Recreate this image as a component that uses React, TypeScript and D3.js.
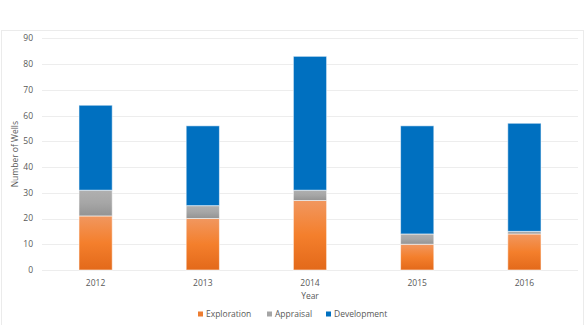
import React from "react";
import * as d3 from "d3";

const years = ["2012", "2013", "2014", "2015", "2016"];
const exploration = [21, 20, 27, 10, 14];
const appraisal = [10, 5, 4, 4, 1];
const development = [33, 31, 52, 42, 42];
const seriesNames = ["Exploration", "Appraisal", "Development"];
const yTicks = [0, 10, 20, 30, 40, 50, 60, 70, 80, 90];

const W = 585;
const H = 325;
const margin = { left: 42, right: 7, top: 38.3, bottom: 55 };
const font = "'Open Sans', 'Liberation Sans', sans-serif";
const textColor = "#595959";
const fs = 8.5;

export default function App() {
  const x = d3
    .scaleBand<string>()
    .domain(years)
    .range([margin.left, W - margin.right])
    .paddingInner(0.69)
    .paddingOuter(0.345);
  const y = d3.scaleLinear().domain([0, 90]).range([270, margin.top]);

  const rows = years.map((yr, i) => ({
    year: yr,
    Exploration: exploration[i],
    Appraisal: appraisal[i],
    Development: development[i],
  }));
  const stack = d3.stack<any>().keys(seriesNames)(rows);
  const fills: Record<string, string> = {
    Exploration: "url(#gradOrange)",
    Appraisal: "url(#gradGray)",
    Development: "#0070C0",
  };
  const legendColors: Record<string, string> = {
    Exploration: "#ED7D31",
    Appraisal: "#A5A5A5",
    Development: "#0070C0",
  };
  const legendX = [198, 267, 326];

  return (
    <svg
      width={W}
      height={H}
      style={{ position: "absolute", left: 0, top: 0, display: "block" }}
    >
      <defs>
        <linearGradient id="gradOrange" x1="0" y1="0" x2="0" y2="1">
          <stop offset="0" stopColor="#F1975F" />
          <stop offset="0.5" stopColor="#F47F2C" />
          <stop offset="1" stopColor="#E3691A" />
        </linearGradient>
        <linearGradient id="gradGray" x1="0" y1="0" x2="0" y2="1">
          <stop offset="0" stopColor="#B0B0B0" />
          <stop offset="0.5" stopColor="#A6A6A6" />
          <stop offset="1" stopColor="#939393" />
        </linearGradient>
      </defs>
      <rect x={0} y={0} width={W} height={H} fill="#fff" />
      <rect
        x={1.5}
        y={30.5}
        width={W - 3}
        height={H}
        fill="none"
        stroke="#EBEBEB"
        strokeWidth={1}
      />
      {yTicks.map((t) => (
        <g key={t}>
          <line
            x1={margin.left}
            x2={W - margin.right}
            y1={Math.round(y(t)) + 0.5}
            y2={Math.round(y(t)) + 0.5}
            stroke="#EDEDED"
            strokeWidth={1}
          />
          <text
            x={33}
            y={y(t)}
            dy="0.35em"
            textAnchor="end"
            fontFamily={font}
            fontSize={fs}
            fill={textColor}
          >
            {t}
          </text>
        </g>
      ))}
      {stack.map((s) =>
        s.map((d, i) => (
          <rect
            key={s.key + i}
            x={x(years[i])!}
            y={y(d[1])}
            width={x.bandwidth()}
            height={y(d[0]) - y(d[1])}
            fill={fills[s.key]}
            stroke="#FFFFFF"
            strokeOpacity={0.55}
            strokeWidth={1}
          />
        ))
      )}
      {years.map((yr) => (
        <text
          key={yr}
          x={x(yr)! + x.bandwidth() / 2}
          y={283}
          dy="0.35em"
          textAnchor="middle"
          fontFamily={font}
          fontSize={fs}
          fill={textColor}
        >
          {yr}
        </text>
      ))}
      <text
        x={(margin.left + W - margin.right) / 2}
        y={296}
        dy="0.35em"
        textAnchor="middle"
        fontFamily={font}
        fontSize={fs}
        fill={textColor}
      >
        Year
      </text>
      <text
        transform={`translate(15, ${(y(0) + y(90)) / 2}) rotate(-90)`}
        textAnchor="middle"
        dy="0.35em"
        fontFamily={font}
        fontSize={fs}
        fill={textColor}
      >
        Number of Wells
      </text>
      {seriesNames.map((n, i) => (
        <g key={n}>
          <rect
            x={legendX[i]}
            y={311.5}
            width={5}
            height={5}
            fill={legendColors[n]}
          />
          <text
            x={legendX[i] + 8}
            y={314}
            dy="0.35em"
            fontFamily={font}
            fontSize={fs}
            fill={textColor}
          >
            {n}
          </text>
        </g>
      ))}
    </svg>
  );
}
